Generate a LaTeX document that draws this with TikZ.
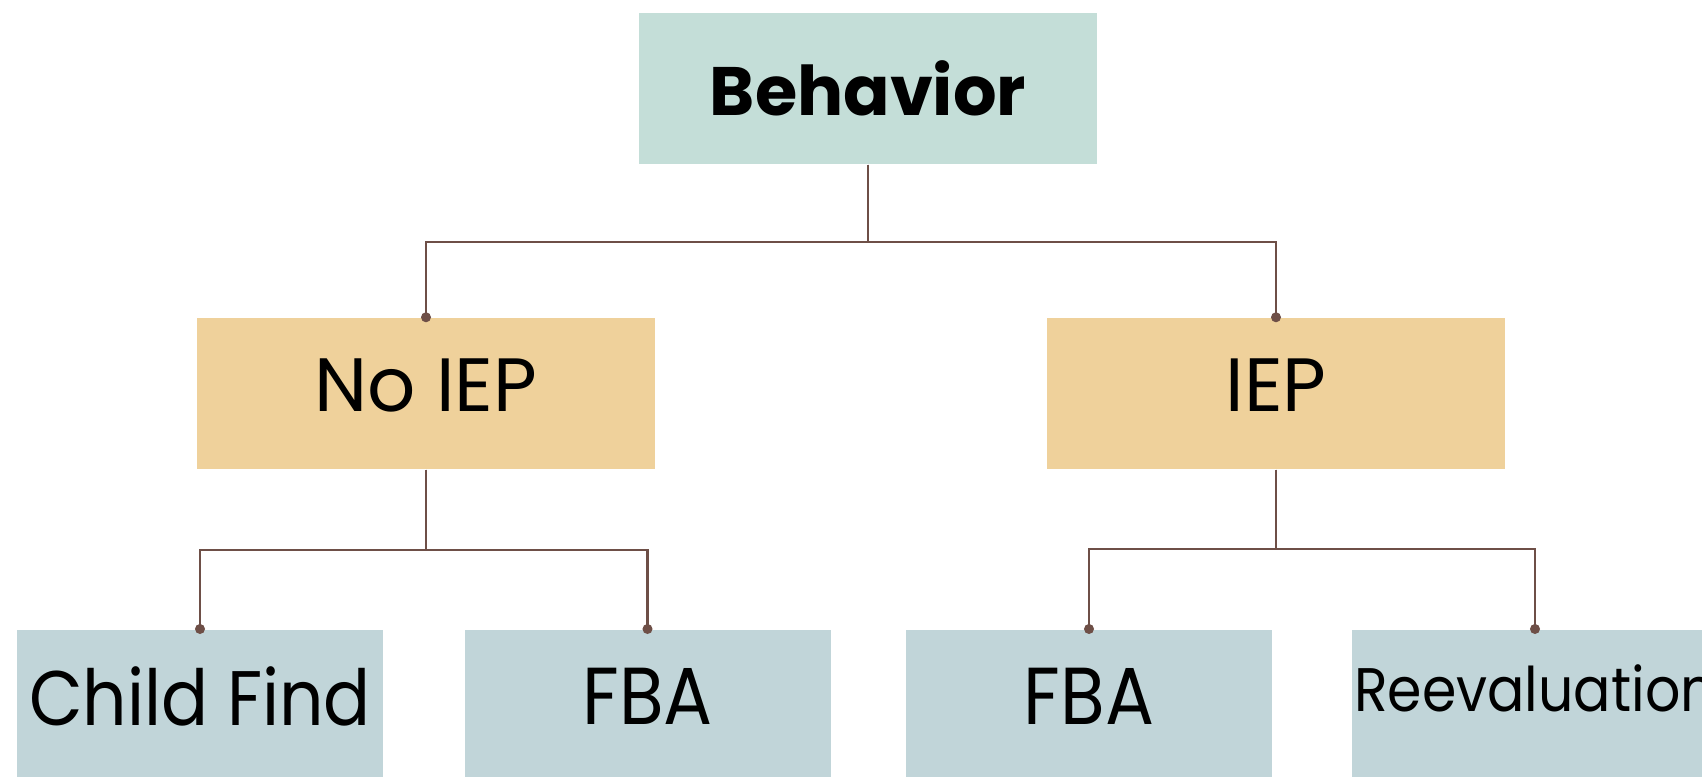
\documentclass[tikz,border=0pt]{standalone}
\usepackage{fontspec}
\setmainfont{Poppins}
\newfontfamily\narrowfont[FakeStretch=0.9]{Poppins}
\usetikzlibrary{arrows.meta}
\definecolor{topfill}{HTML}{C4DED8}
\definecolor{midfill}{HTML}{EFD19B}
\definecolor{lowfill}{HTML}{C1D5D9}
\definecolor{linkcol}{HTML}{6E4F47}

\begin{document}
\begin{tikzpicture}[>=stealth,
  box/.style={fill=#1, inner sep=0pt, minimum width=4.58cm, minimum height=1.51cm},
  leaf/.style={fill=lowfill, inner sep=0pt, minimum width=3.66cm, minimum height=1.51cm,
    anchor=north, text depth=0.18cm, font=\narrowfont\fontsize{22}{24}\selectfont},
  link/.style={linkcol, line width=0.65pt, -{Circle[length=2.8pt]}, shorten >=-1.4pt}]

\useasboundingbox (0,0) rectangle (17.02,7.77);

% Top
\node[box=topfill, font=\bfseries\fontsize{19.5}{21}\selectfont] (behavior) at (8.68,6.885) {Behavior};

% Middle row
\node[box=midfill, text depth=0.17cm, font=\fontsize{21.5}{23}\selectfont] (noiep) at (4.26,3.835) {No IEP};
\node[box=midfill, text depth=0.17cm, font=\fontsize{21.5}{23}\selectfont] (iep) at (12.76,3.835) {IEP};

% Bottom row
\node[leaf] (childfind) at (2.00,1.48) {Child Find};
\node[leaf, font=\narrowfont\fontsize{23}{25}\selectfont] (fbaleft) at (6.475,1.48) {FBA};
\node[leaf, font=\narrowfont\fontsize{23}{25}\selectfont] (fbaright) at (10.89,1.48) {FBA};
\node[leaf, text depth=0.35cm, font=\narrowfont\fontsize{17.5}{19}\selectfont] (reeval) at (15.35,1.48) {Reevaluation};

% Connectors
\draw[link] (behavior.south) -- ++(0,-0.77) -| (noiep.north);
\draw[link] (behavior.south) -- ++(0,-0.77) -| (iep.north);
\draw[link] (noiep.south) -- ++(0,-0.80) -| (childfind.north);
\draw[link] (noiep.south) -- ++(0,-0.80) -| (fbaleft.north);
\draw[link] (iep.south) -- ++(0,-0.79) -| (fbaright.north);
\draw[link] (iep.south) -- ++(0,-0.79) -| (reeval.north);

\end{tikzpicture}
\end{document}
